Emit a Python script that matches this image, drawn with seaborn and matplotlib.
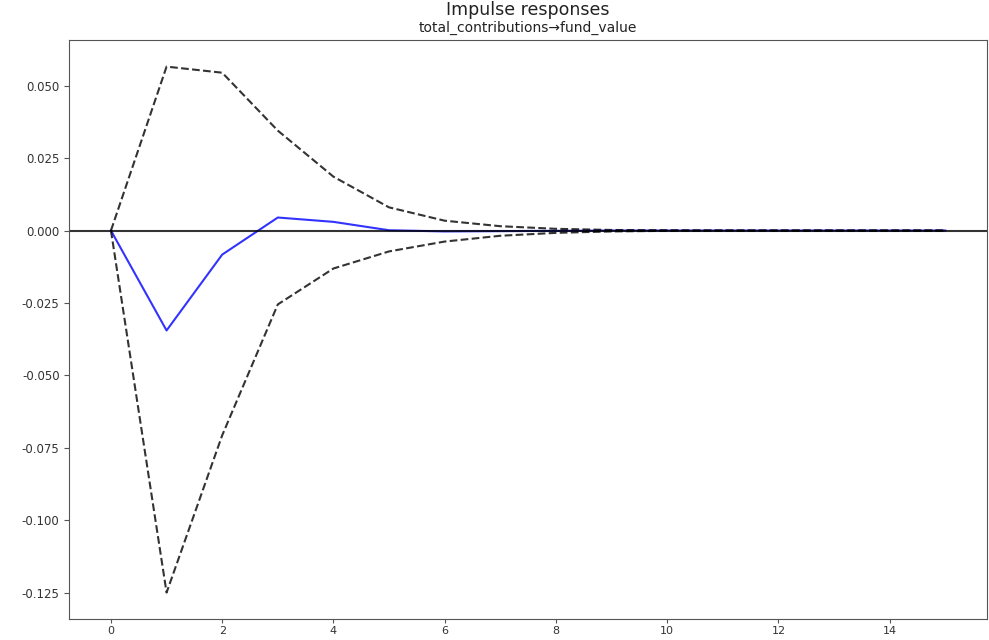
import numpy as np
import pandas as pd
import matplotlib
matplotlib.use("Agg")
import matplotlib.pyplot as plt
import seaborn as sns

periods = list(range(16))
response = [0.0, -0.0345, -0.0083, 0.0045, 0.003, 0.0001, -0.0003, -0.0002, -0.0001,
            0.0, 0.0, 0.0, 0.0, 0.0, 0.0, 0.0]
upper = [0.0, 0.0566, 0.0545, 0.0345, 0.0186, 0.008, 0.0034, 0.0015, 0.0006,
         0.0002, 0.0001, 0.0, 0.0, 0.0, 0.0, 0.0]
lower = [0.0, -0.125, -0.0707, -0.0255, -0.0131, -0.0072, -0.0038, -0.0018, -0.0008,
         -0.0003, -0.0001, 0.0, 0.0, 0.0, 0.0, 0.0]

df = pd.DataFrame({"period": periods, "response": response, "upper": upper, "lower": lower})

fig = plt.figure(figsize=(9.89, 6.4), dpi=100)
ax = fig.add_axes([0.07, 0.033, 0.928, 0.904])

sns.lineplot(data=df, x="period", y="response", ax=ax, color="b", linewidth=1.5, alpha=0.8)
sns.lineplot(data=df, x="period", y="upper", ax=ax, color="k", linestyle="--", linewidth=1.5, alpha=0.8)
sns.lineplot(data=df, x="period", y="lower", ax=ax, color="k", linestyle="--", linewidth=1.5, alpha=0.8)
ax.axhline(0, color="k", linewidth=1.5, alpha=0.8)

ax.set_xlabel("")
ax.set_ylabel("")
ax.set_xticks([0, 2, 4, 6, 8, 10, 12, 14])
ax.set_yticks([-0.125, -0.1, -0.075, -0.05, -0.025, 0.0, 0.025, 0.05])
ax.yaxis.set_major_formatter(matplotlib.ticker.FormatStrFormatter("%.3f"))
ax.tick_params(labelsize=8.5, labelcolor="#333333", color="#555555")
ax.tick_params(axis="x", pad=2, length=3, labelsize=8)
ax.set_title("total_contributions\u2192fund_value", fontsize=10, color="#222222")
fig.suptitle("Impulse responses", fontsize=12.5, x=0.534, y=0.998, color="#222222")
for s in ax.spines.values():
    s.set_color("#555555")

fig.savefig("out.png", dpi=100)
